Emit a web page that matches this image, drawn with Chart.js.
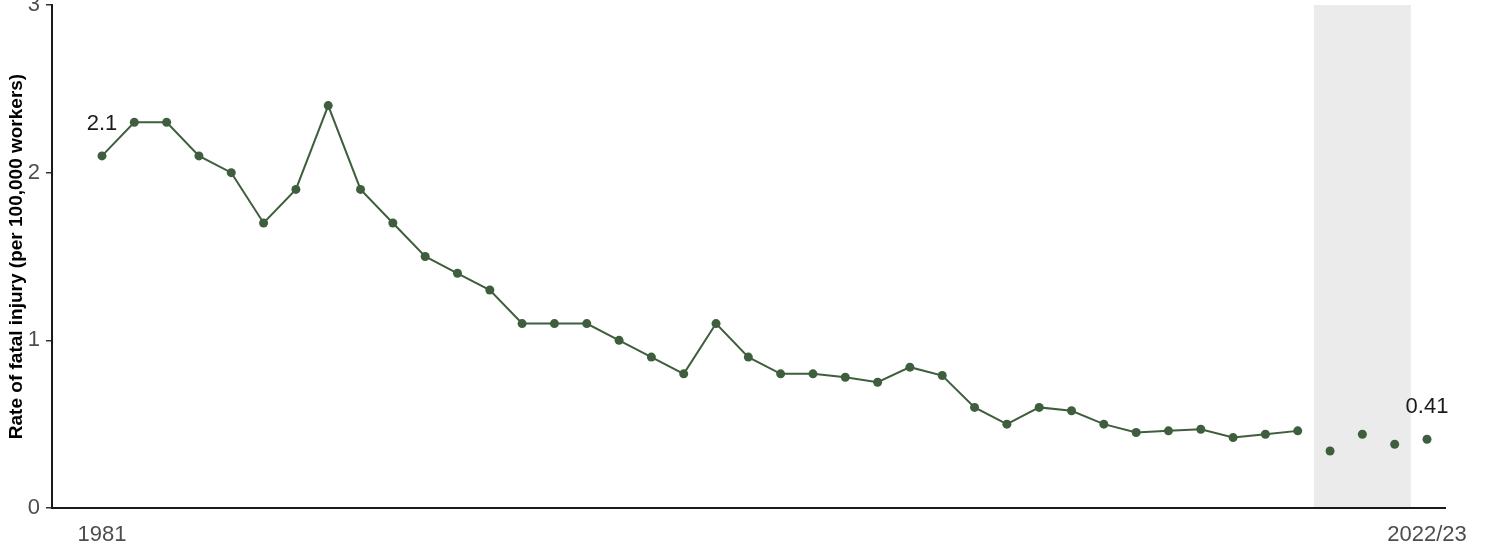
<!DOCTYPE html>
<html>
<head>
<meta charset="utf-8">
<script src="https://cdn.jsdelivr.net/npm/chart.js@4"></script>
<style>
  html, body { margin: 0; padding: 0; background: #fff; }
  #wrap { width: 1500px; height: 545px; }
</style>
</head>
<body>
<div id="wrap"><canvas id="chart" width="1500" height="545"></canvas></div>
<script>
// years on the x axis
const years = [
  "1981", "1982", "1983", "1984", "1985",
  "1986/87", "1987/88", "1988/89", "1989/90", "1990/91",
  "1991/92", "1992/93", "1993/94", "1994/95", "1995/96",
  "1996/97", "1997/98", "1998/99", "1999/00", "2000/01",
  "2001/02", "2002/03", "2003/04", "2004/05", "2005/06",
  "2006/07", "2007/08", "2008/09", "2009/10", "2010/11",
  "2011/12", "2012/13", "2013/14", "2014/15", "2015/16",
  "2016/17", "2017/18", "2018/19", "2019/20", "2020/21",
  "2021/22", "2022/23"
];

// rate of fatal injury per 100,000 workers
const rates = [
  2.1, 2.3, 2.3, 2.1, 2.0, 1.7, 1.9, 2.4, 1.9, 1.7,
  1.5, 1.4, 1.3, 1.1, 1.1, 1.1, 1.0, 0.9, 0.8, 1.1,
  0.9, 0.8, 0.8, 0.78, 0.75, 0.84, 0.79, 0.6, 0.5, 0.6,
  0.58, 0.5, 0.45, 0.46, 0.47, 0.42, 0.44, 0.46, 0.34, 0.44,
  0.38, 0.41
];

const yTicks = [0, 1, 2, 3];
const xTickYears = ["1981", "2022/23"];
const labelledYears = ["1981", "2022/23"];
const shadedYears = ["2019/20", "2020/21", "2021/22"];
const unjoinedFrom = "2019/20"; // points from here on are not joined by the line

const green = "#3e5e3e";
const lastJoined = years.indexOf(unjoinedFrom) - 1;

// grey band behind the covid years
const shadePlugin = {
  id: "shade",
  beforeDraw(chart) {
    const x = chart.scales.x;
    const area = chart.chartArea;
    const idx = shadedYears.map((y) => years.indexOf(y));
    const x0 = x.getPixelForValue(Math.min(...idx) - 0.5);
    const x1 = x.getPixelForValue(Math.max(...idx) + 0.5);
    const ctx = chart.ctx;
    ctx.save();
    ctx.fillStyle = "#ebebeb";
    ctx.fillRect(x0, area.top, x1 - x0, area.bottom - area.top);
    ctx.restore();
  },
};

// value labels above first and last point
const valueLabels = {
  id: "valueLabels",
  afterDatasetsDraw(chart) {
    const meta = chart.getDatasetMeta(0);
    const ctx = chart.ctx;
    ctx.save();
    ctx.font = "22px 'Liberation Sans', Arial, sans-serif";
    ctx.fillStyle = "#1a1a1a";
    ctx.textAlign = "center";
    ctx.textBaseline = "bottom";
    labelledYears.forEach((y) => {
      const i = years.indexOf(y);
      const pt = meta.data[i];
      ctx.fillText(String(rates[i]), pt.x, pt.y - 21);
    });
    ctx.restore();
  },
};

new Chart(document.getElementById("chart"), {
  type: "line",
  data: {
    datasets: [
      {
        data: rates.map((r, i) => ({ x: i, y: r })),
        borderColor: green,
        backgroundColor: green,
        pointBackgroundColor: green,
        pointBorderColor: green,
        borderWidth: 2,
        pointRadius: 4.5,
        pointBorderWidth: 0,
        tension: 0,
        segment: {
          borderColor: (c) => (c.p0DataIndex >= lastJoined ? "transparent" : green),
        },
      },
    ],
  },
  options: {
    responsive: false,
    animation: false,
    devicePixelRatio: 1,
    layout: { padding: { top: 5, right: 55, left: 0, bottom: 0 } },
    plugins: {
      legend: { display: false },
      tooltip: { enabled: false },
    },
    scales: {
      x: {
        type: "linear",
        min: -1.547,
        max: 41.557,
        afterBuildTicks(scale) {
          scale.ticks = xTickYears.map((y) => ({ value: years.indexOf(y) }));
        },
        afterFit(scale) {
          scale.height = 37;
          scale.paddingLeft = 0;
          scale.paddingRight = 0;
        },
        grid: { display: false },
        border: { display: true, color: "#1a1a1a", width: 2 },
        ticks: {
          autoSkip: false,
          maxRotation: 0,
          padding: 6,
          color: "#4d4d4d",
          font: { family: "'Liberation Sans', Arial, sans-serif", size: 22 },
          callback: (v) => years[v],
        },
      },
      y: {
        min: 0,
        max: 3,
        afterBuildTicks(scale) {
          scale.ticks = yTicks.map((v) => ({ value: v }));
        },
        afterFit(scale) {
          scale.width = 52;
          scale.paddingTop = 0;
          scale.paddingBottom = 0;
        },
        grid: {
          drawOnChartArea: false,
          drawTicks: true,
          tickLength: 6,
          color: "#333333",
          lineWidth: 1.5,
        },
        border: { display: true, color: "#1a1a1a", width: 2 },
        ticks: {
          padding: 6,
          color: "#4d4d4d",
          font: { family: "'Liberation Sans', Arial, sans-serif", size: 22 },
          callback: (v) => String(v),
        },
        title: {
          display: true,
          text: "Rate of fatal injury (per 100,000 workers)",
          color: "#000000",
          padding: { top: 5, bottom: 0 },
          font: { family: "'Liberation Sans', Arial, sans-serif", size: 19, weight: "bold" },
        },
      },
    },
  },
  plugins: [shadePlugin, valueLabels],
});
</script>
</body>
</html>
